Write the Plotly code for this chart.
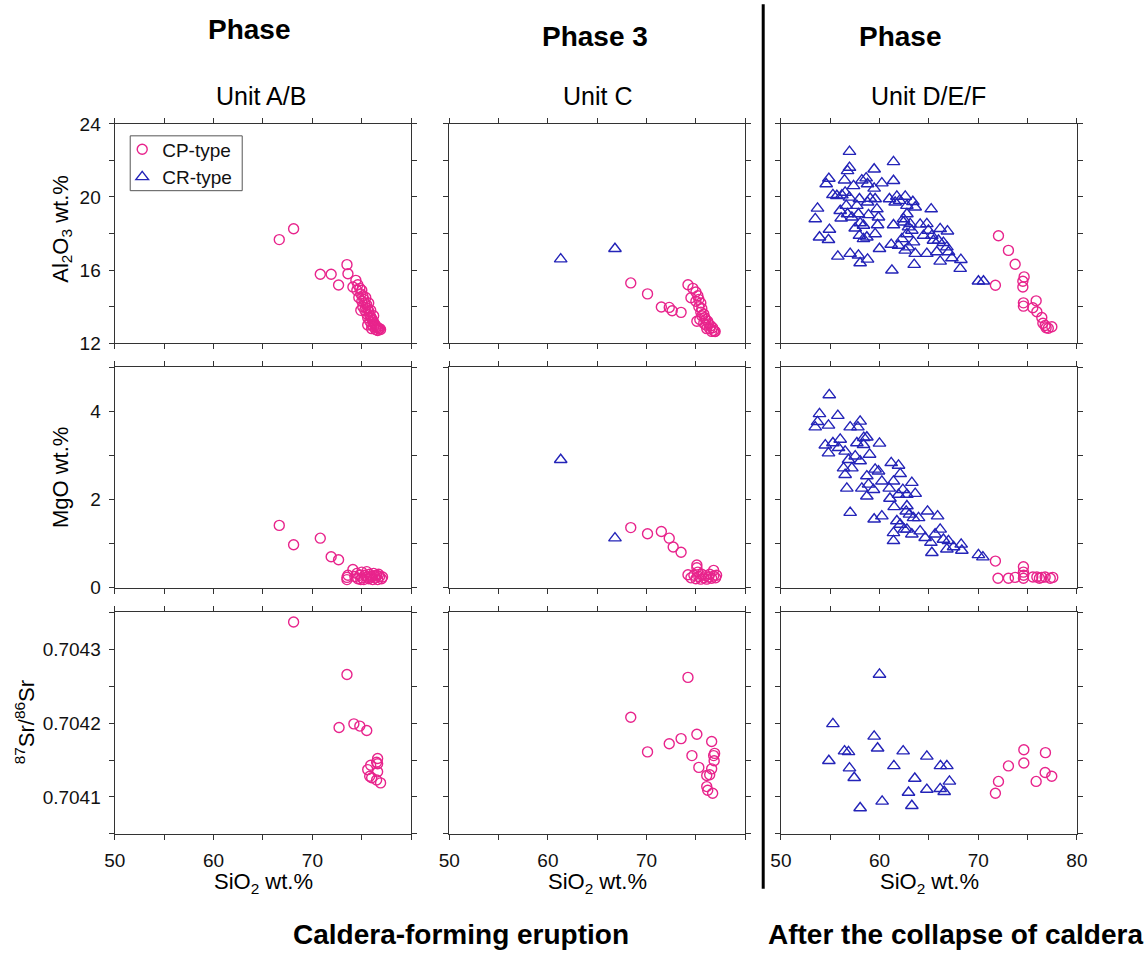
import plotly.graph_objects as go

# ---------------- data ----------------
# Unit A/B (CP-type only)
AB_AL_SIO2 = [66.65, 68.1, 70.8, 71.9, 72.65, 73.5, 73.6, 74.4, 74.9,
              74.1, 74.6, 74.8, 74.5, 75.0, 74.9, 75.1, 74.7, 75.2, 75.0, 75.3, 75.5, 75.1, 75.4,
              75.6, 75.3, 75.7, 75.5, 75.8, 75.9, 75.6, 76.0, 76.1, 75.8, 76.2, 76.3, 76.0, 76.4,
              76.5, 76.2, 76.6, 76.7, 76.4, 76.8, 76.6, 76.9, 75.6, 76.0, 75.4, 75.7, 75.9, 76.2]
AB_AL = [17.67, 18.26, 15.77, 15.77, 15.19, 16.3, 15.8, 15.44, 13.8,
         15.08, 15.2, 15.0, 14.9, 14.9, 14.7, 14.6, 14.5, 14.4, 14.3, 14.2, 14.1, 14.0, 13.95,
         13.9, 13.8, 13.75, 13.6, 13.55, 13.45, 13.4, 13.35, 13.25, 13.2, 13.15, 13.05, 13.0, 12.95,
         12.9, 12.9, 12.85, 12.8, 12.75, 12.8, 12.7, 12.75, 13.0, 12.8, 14.5, 14.2, 13.8, 13.5]

AB_MG_SIO2 = [66.65, 68.1, 70.8, 71.9, 72.65, 73.5, 74.1,
              73.5, 73.6, 74.3, 74.5, 74.6, 74.8, 75.0, 75.0, 75.2, 75.3, 75.5, 75.5, 75.7, 75.8,
              76.0, 76.1, 76.2, 76.4, 76.5, 76.6, 76.8, 77.0, 77.1, 75.9, 76.3, 74.9, 76.7]
AB_MG = [1.41, 0.97, 1.12, 0.70, 0.63, 0.23, 0.41,
         0.18, 0.28, 0.25, 0.32, 0.20, 0.28, 0.22, 0.35, 0.18, 0.28, 0.24, 0.36, 0.20, 0.30,
         0.25, 0.18, 0.32, 0.22, 0.28, 0.18, 0.25, 0.20, 0.24, 0.22, 0.26, 0.18, 0.30]

AB_SR_SIO2 = [68.1, 73.5, 72.7, 74.2, 74.8, 75.5, 76.6, 76.5, 75.9, 75.6, 76.6, 75.8, 76.0, 76.5, 76.9, 76.6]
AB_SR = [0.704337, 0.704266, 0.704194, 0.704199, 0.704196, 0.704190, 0.704152, 0.704147,
         0.704143, 0.704137, 0.704134, 0.704128, 0.704126, 0.704123, 0.704119, 0.704145]

# Unit C
C_CP_AL_SIO2 = [68.4, 70.1, 71.5, 72.3, 72.6, 73.5, 74.2, 74.7, 74.5, 75.1,
                75.0, 75.2, 75.0, 75.3, 75.5, 75.3, 75.6, 75.5, 75.8, 75.9, 75.6, 76.0, 76.2,
                76.0, 76.3, 76.5, 76.4, 76.7, 76.8, 76.6, 76.9, 75.4, 75.8, 76.1, 76.95]
C_CP_AL = [15.3, 14.7, 13.98, 13.96, 13.78, 13.69, 15.2, 15.0, 14.49, 13.2,
           14.8, 14.6, 14.3, 14.4, 14.2, 14.0, 13.9, 13.7, 13.6, 13.4, 13.5, 13.3, 13.2,
           13.0, 13.05, 12.95, 12.8, 12.85, 12.7, 12.65, 12.65, 13.3, 13.1, 12.8, 12.64]
C_CR_SIO2 = [61.3, 66.8]
C_CR_AL = [16.6, 17.17]

C_CP_MG_SIO2 = [68.4, 70.1, 71.5, 72.3, 72.7, 73.5, 74.2, 75.1, 76.8,
                74.5, 74.8, 75.0, 75.2, 75.3, 75.5, 75.6, 75.8, 76.0, 76.1, 76.3, 76.4, 76.6,
                76.8, 77.0, 77.1, 75.1]
C_CP_MG = [1.36, 1.22, 1.27, 1.12, 0.92, 0.80, 0.29, 0.51, 0.39,
           0.22, 0.28, 0.20, 0.35, 0.25, 0.19, 0.30, 0.22, 0.27, 0.19, 0.24, 0.30, 0.21,
           0.26, 0.22, 0.28, 0.45]
C_CR_MG = [2.9, 1.12]

C_SR_SIO2 = [74.2, 68.4, 70.1, 72.3, 73.5, 75.1, 74.6, 75.3, 76.6, 76.9, 76.8, 76.85,
             76.6, 76.1, 76.4, 76.1, 76.2, 76.7]
C_SR = [0.704262, 0.704208, 0.704161, 0.704172, 0.704179, 0.704185, 0.704156, 0.704140,
        0.704175, 0.704159, 0.704156, 0.704149, 0.704138, 0.704129, 0.704130, 0.704114,
        0.704109, 0.704105]

# Unit D/E/F
DEF_CR_AL_SIO2 = [56.95, 61.41, 56.95, 56.75, 59.45, 54.86, 54.59, 56.45, 58.2, 58.64, 58.78,
                  60.23, 61.41, 57.36, 59.45, 55.27, 55.67, 56.18, 56.51, 56.95, 57.96, 59.05,
                  58.78, 59.55, 61.0, 61.58, 62.02, 61.75, 62.6, 63.37, 63.61, 65.23, 53.71,
                  53.48, 54.92, 53.91, 54.82, 56.01, 56.11, 56.62, 56.75, 57.19, 57.7, 57.86,
                  58.03, 58.37, 57.53, 57.96, 58.37, 58.88, 59.73, 59.89, 59.8, 59.55, 58.71,
                  55.77, 57.02, 57.86, 58.03, 58.78, 59.99, 61.18, 61.25, 61.41, 62.42, 62.77,
                  62.93, 63.27, 62.77, 62.26, 61.92, 62.6, 62.93, 63.44, 63.61, 63.51, 64.11,
                  64.79, 64.95, 64.45, 65.3, 65.46, 64.79, 66.14, 66.88, 65.97, 66.47, 65.8,
                  66.82, 66.98, 66.14, 67.33, 68.24, 68.17, 70.02, 70.53, 62.77, 62.42, 63.1]
DEF_CR_AL = [22.48, 21.92, 21.61, 21.43, 21.52, 21.01, 20.71, 20.92, 20.92, 21.03, 20.71,
             20.76, 20.89, 20.61, 20.47, 20.12, 20.07, 20.1, 20.25, 19.98, 19.89, 19.92,
             19.71, 19.89, 19.89, 19.71, 19.8, 20.03, 20.03, 19.74, 19.44, 19.34, 19.38,
             18.8, 18.22, 17.8, 17.66, 19.25, 18.84, 19.53, 19.07, 18.89, 19.53, 19.07,
             18.58, 18.44, 18.29, 17.89, 17.71, 19.02, 19.34, 18.89, 18.47, 17.98, 17.8,
             16.75, 16.9, 16.81, 16.39, 16.59, 17.17, 17.4, 15.99, 18.47, 18.8, 19.07,
             18.35, 18.17, 17.98, 17.71, 17.35, 17.08, 17.26, 17.53, 16.9, 16.3, 18.5,
             18.53, 18.17, 17.89, 17.89, 17.62, 16.9, 18.26, 18.13, 17.62, 17.5, 16.99,
             17.26, 16.99, 16.48, 16.66, 16.57, 16.08, 15.39, 15.39, 19.53, 18.62, 18.53]
DEF_CP_AL_SIO2 = [72.05, 73.06, 73.74, 71.74, 74.65, 74.52, 74.52, 74.58, 74.58, 75.87, 75.53,
                  75.94, 76.44, 76.55, 76.88, 77.46, 76.78, 77.1]
DEF_CP_AL = [17.88, 17.08, 16.32, 15.17, 15.63, 15.39, 15.08, 14.21, 14.03, 14.32, 13.94,
             13.72, 13.41, 13.09, 12.85, 12.9, 12.97, 12.82]

DEF_CR_MG_SIO2 = [54.9, 53.91, 53.71, 53.48, 54.82, 55.77, 57.02, 57.8, 58.03, 54.5, 54.82,
                  55.27, 56.01, 55.84, 56.51, 56.85, 57.7, 58.37, 58.71, 58.4, 59.99, 57.53,
                  58.03, 58.99, 56.51, 56.35, 57.19, 56.68, 57.02, 58.2, 58.71, 58.88, 59.38,
                  59.55, 59.89, 60.23, 58.71, 59.45, 60.23, 61.18, 61.92, 62.09, 61.41, 60.98,
                  61.05, 61.92, 62.36, 62.77, 63.27, 63.61, 61.48, 62.77, 62.7, 63.03, 63.44,
                  61.75, 62.09, 62.5, 61.41, 61.41, 62.77, 63.27, 64.11, 63.95, 64.86, 65.88,
                  66.14, 65.63, 64.62, 65.2, 65.3, 66.47, 66.98, 66.82, 67.5, 68.27, 68.34,
                  70.02, 70.47]
DEF_CR_MG = [4.37, 3.94, 3.76, 3.64, 3.68, 3.9, 3.64, 3.64, 3.77, 3.23, 3.05,
             3.28, 3.36, 3.17, 3.09, 2.9, 3.28, 3.24, 3.41, 3.4, 3.27, 2.98,
             2.87, 3.02, 2.56, 2.71, 2.71, 2.25, 1.70, 2.25, 2.07, 2.34, 2.22,
             2.68, 2.64, 2.41, 2.53, 1.55, 1.62, 2.83, 2.77, 2.58, 2.41, 2.25,
             2.02, 2.11, 2.22, 2.11, 2.38, 2.13, 1.83, 1.85, 1.73, 1.66, 1.58,
             1.51, 1.43, 1.32, 1.24, 1.06, 1.32, 1.21, 1.28, 1.58, 1.73, 1.62,
             1.32, 1.21, 1.13, 1.02, 0.79, 1.09, 1.06, 0.87, 0.92, 0.98, 0.84,
             0.74, 0.69]
DEF_CP_MG_SIO2 = [71.74, 72.0, 73.06, 73.74, 74.58, 74.58, 74.58, 74.6, 75.53, 75.94, 76.44,
                  76.78, 77.3, 77.55, 76.2]
DEF_CP_MG = [0.6, 0.21, 0.21, 0.23, 0.47, 0.35, 0.21, 0.28, 0.24, 0.24, 0.23,
             0.24, 0.21, 0.23, 0.21]

DEF_CR_SR_SIO2 = [59.99, 55.27, 54.86, 59.45, 59.8, 56.45, 56.85, 56.95, 57.43, 58.03, 60.26,
                  61.45, 62.39, 62.93, 63.27, 63.57, 64.79, 64.79, 66.17, 66.82, 66.14, 66.55, 67.08]
DEF_CR_SR = [0.704266, 0.704199, 0.704149, 0.704182, 0.704166, 0.704162, 0.704161, 0.704139,
             0.704126, 0.704085, 0.704094, 0.704142, 0.704162, 0.704106, 0.704088, 0.704125,
             0.704155, 0.704110, 0.704142, 0.704142, 0.704111, 0.704107, 0.704121]
DEF_CP_SR_SIO2 = [71.74, 72.05, 73.06, 74.62, 74.62, 75.87, 76.81, 76.78, 77.45]
DEF_CP_SR = [0.704105, 0.704121, 0.704142, 0.704164, 0.704146, 0.704121, 0.704160, 0.704133, 0.704128]

# tick labels (labelled major ticks; unlabelled minor ticks every half step)
X_MAJOR_AC = [50, 60, 70]
X_MAJOR_DEF = [50, 60, 70, 80]
AL_MAJOR = [12, 16, 20, 24]
MG_MAJOR = [0, 2, 4]
SR_MAJOR = [0.7041, 0.7042, 0.7043]
SR_LABELS = ["0.7041", "0.7042", "0.7043"]

# ---------------- figure ----------------
# observed capture: image_px ~= SCALE * (figure_px + OFFSET)
SCALE = 0.981
OFFSET = 11
W = 1158
H = 961


def fx(p):
    return (p / SCALE - OFFSET) / W


def fy(p):
    return 1 - (p / SCALE - OFFSET) / H


PINK = "#E8248C"
BLUE = "#2424B8"
FONT = "Liberation Sans, Arial, sans-serif"

col_px = [(114.5, 411.0), (449.0, 745.0), (780.7, 1076.7)]
row_px = [(125.0, 345.0), (369.0, 590.0), (615.0, 837.0)]

fig = go.Figure()

panels = [
    (0, 0, AB_AL_SIO2, AB_AL, None, None),
    (0, 1, C_CP_AL_SIO2, C_CP_AL, C_CR_SIO2, C_CR_AL),
    (0, 2, DEF_CP_AL_SIO2, DEF_CP_AL, DEF_CR_AL_SIO2, DEF_CR_AL),
    (1, 0, AB_MG_SIO2, AB_MG, None, None),
    (1, 1, C_CP_MG_SIO2, C_CP_MG, C_CR_SIO2, C_CR_MG),
    (1, 2, DEF_CP_MG_SIO2, DEF_CP_MG, DEF_CR_MG_SIO2, DEF_CR_MG),
    (2, 0, AB_SR_SIO2, AB_SR, None, None),
    (2, 1, C_SR_SIO2, C_SR, None, None),
    (2, 2, DEF_CP_SR_SIO2, DEF_CP_SR, DEF_CR_SR_SIO2, DEF_CR_SR),
]

yranges = [[12, 24], [0, 5], [0.70405, 0.70435]]
ymajor = [(AL_MAJOR, [str(v) for v in AL_MAJOR], 12, 2),
          (MG_MAJOR, [str(v) for v in MG_MAJOR], 0, 1),
          (SR_MAJOR, SR_LABELS, 0.70405, 0.00005)]

cp_legend_done = False
cr_legend_done = False
layout_axes = {}
for i, (r, c, cpx, cpy, crx, cry) in enumerate(panels):
    n = i + 1
    xa = "x" if n == 1 else f"x{n}"
    ya = "y" if n == 1 else f"y{n}"
    if crx is not None:
        fig.add_trace(go.Scatter(
            x=crx, y=cry, mode="markers", name="CR-type", xaxis=xa, yaxis=ya,
            marker=dict(symbol="triangle-up-open", size=11, color=BLUE, line=dict(width=1.4)),
            showlegend=not cr_legend_done, legendrank=2))
        cr_legend_done = True
    fig.add_trace(go.Scatter(
        x=cpx, y=cpy, mode="markers", name="CP-type", xaxis=xa, yaxis=ya,
        marker=dict(symbol="circle-open", size=10, color=PINK, line=dict(width=1.4)),
        showlegend=not cp_legend_done, legendrank=1))
    cp_legend_done = True

    x0, x1 = col_px[c]
    y0, y1 = row_px[r]
    common = dict(showgrid=False, zeroline=False, showline=True, linecolor="#333",
                  linewidth=1.3, mirror="ticks", ticks="outside", ticklen=5,
                  tickcolor="#333", tickwidth=1.3, ticklabelstandoff=4,
                  tickfont=dict(family=FONT, size=19, color="#111"))
    xk = "xaxis" if n == 1 else f"xaxis{n}"
    yk = "yaxis" if n == 1 else f"yaxis{n}"
    xv = X_MAJOR_DEF if c == 2 else X_MAJOR_AC
    layout_axes[xk] = dict(common, domain=[fx(x0), fx(x1)], anchor=ya, range=[50, 80],
                           tickmode="array", tickvals=xv, ticktext=[str(v) for v in xv],
                           showticklabels=(r == 2),
                           minor=dict(ticks="outside", ticklen=5, tickcolor="#333",
                                      tickwidth=1.3, tick0=50, dtick=5, showgrid=False))
    tv, tt, t0, dt = ymajor[r]
    layout_axes[yk] = dict(common, domain=[fy(y1), fy(y0)], anchor=xa,
                           range=yranges[r], tickmode="array", tickvals=tv, ticktext=tt,
                           showticklabels=(c == 0),
                           minor=dict(ticks="outside", ticklen=5, tickcolor="#333",
                                      tickwidth=1.3, tick0=t0, dtick=dt, showgrid=False))

fig.update_layout(**layout_axes)

ann = []


def txt(text, x, y, size, bold=False, angle=0):
    ann.append(dict(text=f"<b>{text}</b>" if bold else text, x=fx(x), y=fy(y),
                    xref="paper", yref="paper", showarrow=False, xanchor="center",
                    yanchor="middle", textangle=angle,
                    font=dict(family=FONT, size=size, color="#000")))


txt("Phase", 249, 30, 28, bold=True)
txt("Phase 3", 595, 37, 28, bold=True)
txt("Phase", 900, 37, 28, bold=True)
txt("Unit A/B", 261, 97, 25)
txt("Unit C", 597, 97, 25)
txt("Unit D/E/F", 928, 97, 25)
txt("Al<sub>2</sub>O<sub>3</sub> wt.%", 61, 230, 22, angle=-90)
txt("MgO wt.%", 61, 480, 22, angle=-90)
txt("<sup>87</sup>Sr/<sup>86</sup>Sr", 25, 725, 22, angle=-90)
for cx in (263, 597, 929):
    txt("SiO<sub>2</sub> wt.%", cx, 886, 22)
txt("Caldera-forming eruption", 461, 938, 28, bold=True)
txt("After the collapse of caldera", 955, 938, 28, bold=True)

fig.update_layout(
    width=W, height=H, margin=dict(l=0, r=0, t=0, b=0),
    paper_bgcolor="white", plot_bgcolor="white",
    annotations=ann,
    shapes=[dict(type="line", xref="paper", yref="paper",
                 x0=fx(763), x1=fx(763), y0=fy(892), y1=fy(5),
                 line=dict(color="black", width=3)),
            dict(type="rect", xref="paper", yref="paper",
                 x0=fx(130), x1=fx(242), y0=fy(192), y1=fy(137),
                 line=dict(color="#555", width=1), fillcolor="rgba(0,0,0,0)", layer="above")],
    legend=dict(x=fx(122), y=fy(131.5), xanchor="left", yanchor="top",
                borderwidth=0, bgcolor="rgba(0,0,0,0)",
                font=dict(family=FONT, size=19, color="#111"),
                tracegroupgap=0, itemwidth=30),
    showlegend=True,
)

fig.write_html("out.html")
